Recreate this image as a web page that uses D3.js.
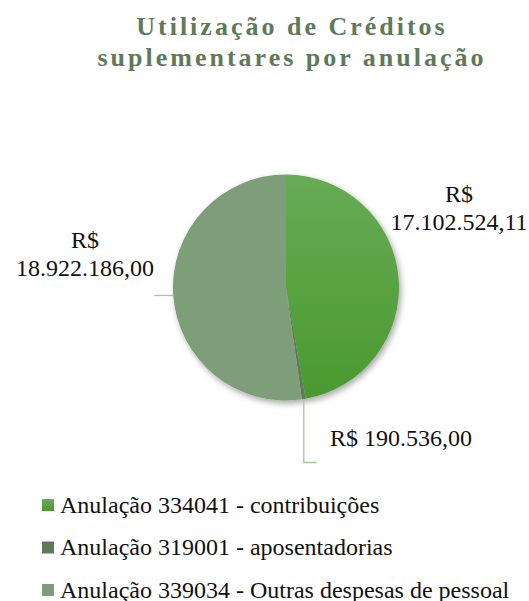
<!DOCTYPE html>
<html>
<head>
<meta charset="utf-8">
<script src="https://cdn.jsdelivr.net/npm/d3@7"></script>
<style>
  html, body { margin: 0; padding: 0; background: #fff; }
  svg { display: block; }
</style>
</head>
<body>
<svg id="chart" width="529" height="601"></svg>
<script>
// Dados do gráfico
const categories = [
  "Anulação 334041 - contribuições",
  "Anulação 319001 - aposentadorias",
  "Anulação 339034 - Outras despesas de pessoal"
];
const values = [17102524.11, 190536.00, 18922186.00];
const valueLabels = [
  ["R$", "17.102.524,11"],
  ["R$ 190.536,00"],
  ["R$", "18.922.186,00"]
];
const titleLines = ["Utilização de Créditos", "suplementares por anulação"];

const colors = ["#58a23e", "#5e7a58", "#7e9d79"];
const cx = 286, cy = 287.5, R = 113;
const serif = "'Liberation Serif', 'Times New Roman', serif";

const svg = d3.select("#chart");
const defs = svg.append("defs");

// Gradiente da fatia verde
const grad = defs.append("linearGradient")
  .attr("id", "gGreen").attr("x1", 0).attr("y1", 0).attr("x2", 0).attr("y2", 1);
grad.append("stop").attr("offset", "0%").attr("stop-color", "#67ab55");
grad.append("stop").attr("offset", "100%").attr("stop-color", "#4a9a2e");

// Sombra suave da pizza
const flt = defs.append("filter").attr("id", "shadow")
  .attr("x", "-20%").attr("y", "-20%").attr("width", "140%").attr("height", "140%");
flt.append("feGaussianBlur").attr("in", "SourceAlpha").attr("stdDeviation", 3).attr("result", "b");
flt.append("feOffset").attr("in", "b").attr("dx", 2).attr("dy", 3).attr("result", "o");
flt.append("feComponentTransfer").attr("in", "o").attr("result", "s")
  .append("feFuncA").attr("type", "linear").attr("slope", 0.35);
const merge = flt.append("feMerge");
merge.append("feMergeNode").attr("in", "s");
merge.append("feMergeNode").attr("in", "SourceGraphic");

// Título
svg.append("text")
  .attr("text-anchor", "middle")
  .attr("font-family", serif).attr("font-weight", "bold")
  .attr("font-size", 26).attr("letter-spacing", 3)
  .attr("fill", "#5e7a58")
  .selectAll("tspan").data(titleLines).join("tspan")
  .attr("x", 292).attr("y", (d, i) => 35 + i * 31)
  .text(d => d);

// Pizza
const pie = d3.pie().sort(null).value(d => d);
const arcs = pie(values);
const arc = d3.arc().innerRadius(0).outerRadius(R);

const g = svg.append("g").attr("transform", `translate(${cx},${cy})`);
g.append("g").attr("filter", "url(#shadow)")
  .selectAll("path").data(arcs).join("path")
  .attr("d", arc)
  .attr("fill", (d, i) => i === 0 ? "url(#gGreen)" : colors[i]);

// Linhas de chamada
const edge = (a, r) => [Math.sin(a) * r, -Math.cos(a) * r];
const mid = d => (d.startAngle + d.endAngle) / 2;
const leader = "#a8c3a0";

// fatia pequena: desce e vira à direita
{
  const [x0, y0] = edge(mid(arcs[1]), R);
  g.append("polyline")
    .attr("points", [[x0, y0], [x0, 175], [x0 + 13, 175]].map(p => p.join(",")).join(" "))
    .attr("fill", "none").attr("stroke", leader).attr("stroke-width", 1.3);
}
// fatia cinza: horizontal para a esquerda
{
  const [x0, y0] = edge(mid(arcs[2]), R);
  g.append("line")
    .attr("x1", x0).attr("y1", y0).attr("x2", x0 - 19).attr("y2", y0)
    .attr("stroke", leader).attr("stroke-width", 1.3);
}

// Rótulos de valor
const labelPos = [
  { x: 459, y: 202, anchor: "middle" },
  { x: 330, y: 446, anchor: "start" },
  { x: 85, y: 248, anchor: "middle" }
];
valueLabels.forEach((lines, i) => {
  const p = labelPos[i];
  svg.append("text")
    .attr("font-family", serif).attr("font-size", 24).attr("fill", "#111")
    .attr("text-anchor", p.anchor)
    .selectAll("tspan").data(lines).join("tspan")
    .attr("x", p.x).attr("y", (d, j) => p.y + j * 28)
    .text(d => d);
});

// Legenda
const leg = svg.append("g");
const rows = leg.selectAll("g").data(categories).join("g")
  .attr("transform", (d, i) => `translate(42, ${505 + i * 42.5})`);
rows.append("rect")
  .attr("x", 0).attr("y", -6).attr("width", 12).attr("height", 12)
  .attr("fill", (d, i) => i === 0 ? "url(#gGreen)" : colors[i]);
rows.append("text")
  .attr("x", 18).attr("y", 7.5)
  .attr("font-family", serif).attr("font-size", 24).attr("fill", "#111")
  .text(d => d);
</script>
</body>
</html>
